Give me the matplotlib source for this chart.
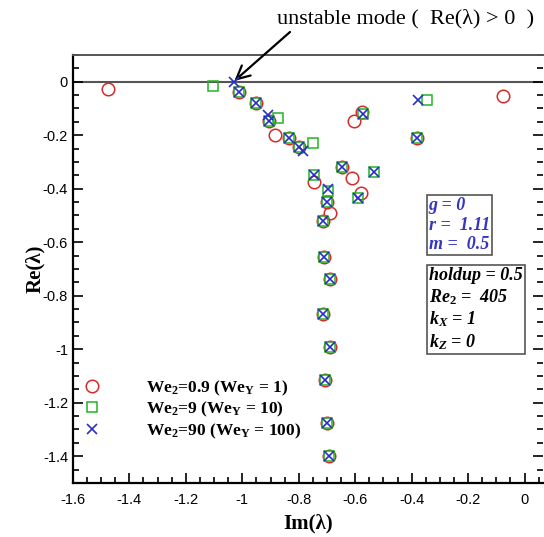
import matplotlib.pyplot as plt
from matplotlib.ticker import MultipleLocator

plt.rcParams['mathtext.fontset'] = 'custom'
plt.rcParams['mathtext.rm'] = 'Liberation Serif:bold'
plt.rcParams['mathtext.it'] = 'Liberation Serif:bold:italic'
plt.rcParams['mathtext.bf'] = 'Liberation Serif:bold'

# We2 = 0.9 (red circles)
im_a = [-1.475, -1.01, -0.952, -0.906, -0.885, -0.835, -0.80, -0.745, -0.645, -0.61,
        -0.575, -0.605, -0.58, -0.70, -0.69, -0.715, -0.71, -0.69, -0.715, -0.69,
        -0.708, -0.70, -0.694, -0.38, -0.078]
re_a = [-0.028, -0.038, -0.08, -0.148, -0.20, -0.21, -0.245, -0.375, -0.32, -0.36,
        -0.115, -0.146, -0.415, -0.45, -0.49, -0.52, -0.655, -0.737, -0.87, -0.99,
        -1.116, -1.277, -1.40, -0.21, -0.055]
# We2 = 9 (green squares)
im_b = [-1.104, -1.01, -0.952, -0.872, -0.906, -0.835, -0.80, -0.75, -0.747, -0.645,
        -0.572, -0.347, -0.535, -0.59, -0.697, -0.70, -0.715, -0.71, -0.69, -0.715,
        -0.69, -0.708, -0.70, -0.694, -0.38]
re_b = [-0.015, -0.038, -0.08, -0.135, -0.148, -0.21, -0.245, -0.23, -0.35, -0.32,
        -0.12, -0.07, -0.337, -0.435, -0.41, -0.45, -0.52, -0.655, -0.737, -0.87,
        -0.99, -1.116, -1.277, -1.40, -0.21]
# We2 = 90 (blue crosses)
im_c = [-1.03, -1.01, -0.952, -0.91, -0.906, -0.835, -0.80, -0.786, -0.747, -0.645,
        -0.572, -0.379, -0.535, -0.59, -0.697, -0.70, -0.715, -0.71, -0.69, -0.715,
        -0.69, -0.708, -0.70, -0.694, -0.38]
re_c = [0.0, -0.038, -0.08, -0.124, -0.148, -0.21, -0.245, -0.26, -0.35, -0.32,
        -0.12, -0.07, -0.337, -0.435, -0.40, -0.45, -0.52, -0.655, -0.737, -0.87,
        -0.99, -1.116, -1.277, -1.40, -0.21]

labels = [r'We$_\mathrm{2}$=0.9 (We$_\mathrm{Y}$ = 1)',
          r'We$_\mathrm{2}$=9 (We$_\mathrm{Y}$ = 10)',
          r'We$_\mathrm{2}$=90 (We$_\mathrm{Y}$ = 100)']

fig = plt.figure(figsize=(5.44, 5.37), dpi=100)
ax = fig.add_axes([0.134, 0.1006, 0.864, 0.797])

ax.axhline(0, color='#555555', lw=1.5, zorder=1)
ax.plot(im_a, re_a, 'o', mfc='none', mec='#d42a2a', ms=9, mew=1.1, label=labels[0], zorder=2)
ax.plot(im_b, re_b, 's', mfc='none', mec='#22b522', ms=7.5, mew=1.1, label=labels[1], zorder=3)
ax.plot(im_c, re_c, 'x', color='#2530c8', ms=7, mew=1.2, label=labels[2], zorder=4)

ax.set_xlim(-1.6, 0.065)
ax.set_ylim(-1.5, 0.1)
ax.xaxis.set_minor_locator(MultipleLocator(0.05))
ax.yaxis.set_minor_locator(MultipleLocator(0.05))
ax.tick_params(which='both', direction='in', top=False, right=True, width=1.2)
ax.tick_params(which='major', length=7)
ax.tick_params(which='minor', length=4)
ax.tick_params(axis='x', pad=7)
ax.set_xticks([-1.6, -1.4, -1.2, -1, -0.8, -0.6, -0.4, -0.2, 0])
ax.set_xticklabels(['-1.6', '-1.4', '-1.2', '-1', '-0.8', '-0.6', '-0.4', '-0.2', '0'])
ax.set_yticks([0, -0.2, -0.4, -0.6, -0.8, -1, -1.2, -1.4])
ax.set_yticklabels(['0', '-0.2', '-0.4', '-0.6', '-0.8', '-1', '-1.2', '-1.4'])
for t in ax.get_xticklabels() + ax.get_yticklabels():
    t.set_family('Liberation Sans')
    t.set_fontsize(10.5)
for s in ['left', 'bottom']:
    ax.spines[s].set_linewidth(1.6)
ax.spines['right'].set_visible(False)
ax.spines['top'].set_color('#555555')
ax.spines['top'].set_linewidth(1.4)

ax.set_xlabel('Im(λ)', family='Liberation Serif', weight='bold', fontsize=15, labelpad=5)
ax.set_ylabel('Re(λ)', family='Liberation Serif', weight='bold', fontsize=15, labelpad=-2)

leg = ax.legend(loc='lower left', bbox_to_anchor=(-0.015, 0.062), frameon=False,
                prop={'family': 'Liberation Serif', 'weight': 'bold', 'size': 12.5},
                handletextpad=2.5, labelspacing=0.14, handlelength=1.2)

box_font = dict(family='Liberation Serif', weight='bold', style='italic', fontsize=13,
                va='top', ha='left', linespacing=1.2, transform=ax.transAxes)
ax.text(0.757, 0.668, 'g = 0\nr =  1.11\nm =  0.5', color='#3535c0',
        bbox=dict(boxstyle='square,pad=0.12', fc='white', ec='#555555', lw=1.2), **box_font)
ax.text(0.757, 0.505, 'holdup = 0.5\nRe$_\\mathrm{2}$ =  405\nk$_\\mathit{X}$ = 1\nk$_\\mathit{Z}$ = 0',
        color='black',
        bbox=dict(boxstyle='square,pad=0.12', fc='white', ec='#555555', lw=1.2), **box_font)

fig.text(406 / 544, 1 - 19 / 537, 'unstable mode (  Re(λ) > 0  )', ha='center', va='center',
         family='Liberation Serif', fontsize=16)
ax.annotate('', xy=(-1.028, 0.003), xycoords='data',
            xytext=(290, 537 - 32), textcoords='figure pixels',
            arrowprops=dict(arrowstyle='->', color='black', lw=1.6, mutation_scale=24,
                            shrinkA=0, shrinkB=0),
            annotation_clip=False)

fig.savefig('out.png', dpi=100)
